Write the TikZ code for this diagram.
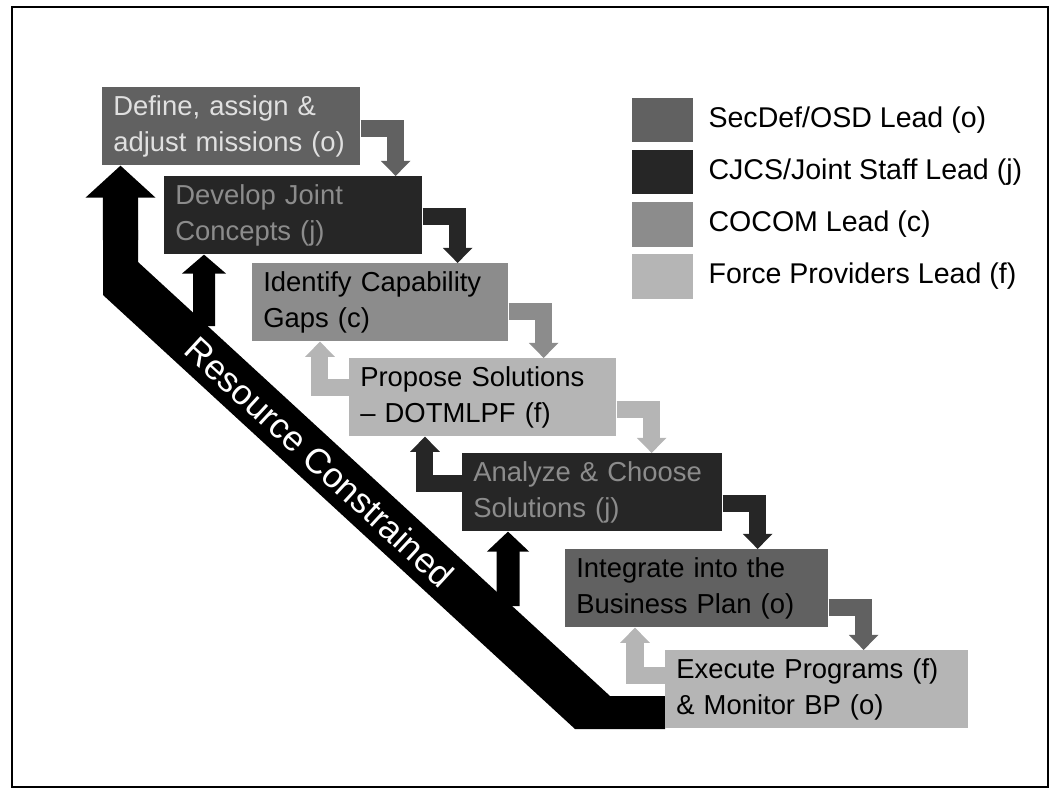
\documentclass[tikz,border=0pt]{standalone}
\usepackage{fontspec}
\setmainfont{Liberation Sans}
\usetikzlibrary{arrows.meta,positioning}

\definecolor{ocol}{gray}{0.38}
\definecolor{jcol}{gray}{0.15}
\definecolor{ccol}{gray}{0.55}
\definecolor{fcol}{gray}{0.71}

\begin{document}
\begin{tikzpicture}[x=0.025cm, y=-0.025cm,
    stepbox/.style={anchor=north west, minimum height=1.95cm, inner xsep=0.275cm,
        inner ysep=0pt, align=left, text width=#1, font=\fontsize{19.5}{26}\selectfont},
    flowarrow/.style={line width=0.425cm, line join=miter,
        -{Triangle[width=0.72cm, length=0.38cm]}},
    swatch/.style={minimum width=1.525cm, minimum height=1.1cm, inner sep=0pt},
    legendtext/.style={inner sep=0pt, right=0.375cm of #1, font=\fontsize{20.3}{24}\selectfont}]

    % Page frame
    \useasboundingbox (0,0) rectangle (1054,789);
    \draw[line width=1.2pt] (12,7) rectangle (1048,787);

    % Resource constrained band
    \fill[black] (103,230) -- (103,295) -- (575,729) -- (665,729) -- (665,696)
        -- (610,696) -- (138,262) -- (138,230) -- cycle;

    % The steps
    \node[stepbox=5.9cm, fill=ocol, text=black!12] (b1) at (102,87) {Define, assign \&\\adjust missions (o)};
    \node[stepbox=5.9cm, fill=jcol, text=black!45] (b2) at (164,176) {Develop Joint\\Concepts (j)};
    \node[stepbox=5.85cm, fill=ccol] (b3) at (252,263) {Identify Capability\\Gaps (c)};
    \node[stepbox=6.125cm, fill=fcol] (b4) at (349,358) {Propose Solutions\\-- DOTMLPF (f)};
    \node[stepbox=5.95cm, fill=jcol, text=black!45] (b5) at (462,453) {Analyze \& Choose\\Solutions (j)};
    \node[stepbox=6.025cm, fill=ocol] (b6) at (565,549) {Integrate into the\\Business Plan (o)};
    \node[stepbox=7.025cm, fill=fcol] (b7) at (665,650) {Execute Programs (f)\\\& Monitor BP (o)};

    % Hand-offs down to the next step
    \draw[flowarrow, ocol] ([yshift=-0.06cm]b1.east) -| ([xshift=0.875cm]b1.east |- b2.north);
    \draw[flowarrow, jcol] ([yshift=-0.025cm]b2.east) -| ([xshift=0.875cm]b2.east |- b3.north);
    \draw[flowarrow, ccol] ([yshift=-0.225cm]b3.east) -| ([xshift=0.875cm]b3.east |- b4.north);
    \draw[flowarrow, fcol] ([yshift=-0.3cm]b4.east) -| ([xshift=0.875cm]b4.east |- b5.north);
    \draw[flowarrow, jcol] ([yshift=-0.29cm]b5.east) -| ([xshift=0.875cm]b5.east |- b6.north);
    \draw[flowarrow, ocol] ([yshift=-0.475cm]b6.east) -| ([xshift=0.875cm]b6.east |- b7.north);

    % Feedback up to the step before
    \draw[flowarrow, fcol] ([yshift=-0.725cm]b4.north west) -| ([xshift=-0.725cm]b4.north west |- b3.south);
    \draw[flowarrow, jcol] ([yshift=-0.75cm]b5.north west) -| ([xshift=-0.925cm]b5.north west |- b4.south);
    \draw[flowarrow, fcol] ([yshift=-0.625cm]b7.north west) -| ([xshift=-0.75cm]b7.north west |- b6.south);

    % Arrows out of the band
    \coordinate (rA) at (120.5,240);
    \coordinate (rB) at (204,326);
    \coordinate (rC) at (508,606);
    \draw[line width=0.875cm, -{Triangle[width=1.7cm, length=0.8cm]}] (rA) -- ([xshift=0.4625cm]b1.south west);
    \draw[line width=0.55cm, -{Triangle[width=1.075cm, length=0.475cm]}] (rB) -- ([xshift=1cm]b2.south west);
    \draw[line width=0.575cm, -{Triangle[width=1.025cm, length=0.5cm]}] (rC) -- ([xshift=1.15cm]b5.south west);

    % Band label
    \node[white, rotate=-42.6, font=\fontsize{25}{28}\selectfont] (rc) at (320,462) {Resource Constrained};

    % Legend
    \node[swatch, fill=ocol] (lo) at (662.5,120) {};
    \node[swatch, fill=jcol] (lj) at (662.5,172) {};
    \node[swatch, fill=ccol] (lc) at (662.5,224.5) {};
    \node[swatch, fill=fcol] (lf) at (662.5,276.5) {};
    \node[legendtext=lo] (to) {SecDef/OSD Lead (o)};
    \node[legendtext=lj] (tj) {CJCS/Joint Staff Lead (j)};
    \node[legendtext=lc] (tc) {COCOM Lead (c)};
    \node[legendtext=lf] (tf) {Force Providers Lead (f)};

\end{tikzpicture}
\end{document}
